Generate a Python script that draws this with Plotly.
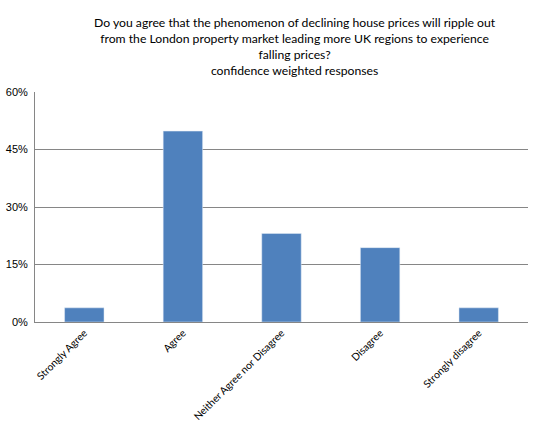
import plotly.graph_objects as go

# survey answers and their confidence weighted share
answers = ["Strongly Agree", "Agree", "Neither Agree nor Disagree", "Disagree", "Strongly disagree"]
shares = [0.037, 0.498, 0.231, 0.194, 0.037]
y_ticks = [0, 0.15, 0.30, 0.45, 0.60]
y_tick_text = ["0%", "15%", "30%", "45%", "60%"]

title_lines = [
    "Do you agree that the phenomenon of declining house prices will ripple out",
    "from the London property market leading more UK regions to experience",
    "falling prices?",
    "confidence weighted responses",
]

fig = go.Figure()
fig.add_trace(go.Bar(x=answers, y=shares, marker_color="#4F81BD", width=0.4))

fig.update_layout(
    width=542, height=429,
    margin=dict(l=35, r=14, t=92, b=107, autoexpand=False),
    paper_bgcolor="white", plot_bgcolor="white",
    showlegend=False,
    bargap=0.6,
)
fig.add_annotation(
    text="<br>".join(title_lines), xref="paper", yref="paper",
    x=0.528, y=1, yshift=12, xanchor="center", yanchor="bottom",
    showarrow=False, align="center",
    font=dict(family="Lato, Noto Sans, sans-serif", size=12.2, color="black"),
)
fig.update_xaxes(
    automargin=False,
    showline=True, linecolor="#868686", linewidth=1,
    tickangle=-45, ticks="",
    tickfont=dict(family="Lato, Noto Sans, sans-serif", size=10.3, color="black"),
)
fig.update_yaxes(
    automargin=False,
    range=[0, 0.6], tickvals=y_ticks, ticktext=y_tick_text,
    showline=True, linecolor="#868686", linewidth=1,
    showgrid=True, gridcolor="#868686", gridwidth=1,
    zeroline=False, ticks="", ticklabelstandoff=4,
    tickfont=dict(family="Liberation Sans, Arial, sans-serif", size=11, color="black"),
)

# drop the browser's default body margin so the figure fills the window
fig.write_html("out.html", config={"displayModeBar": False},
               post_script="document.body.style.margin = '0px';")
